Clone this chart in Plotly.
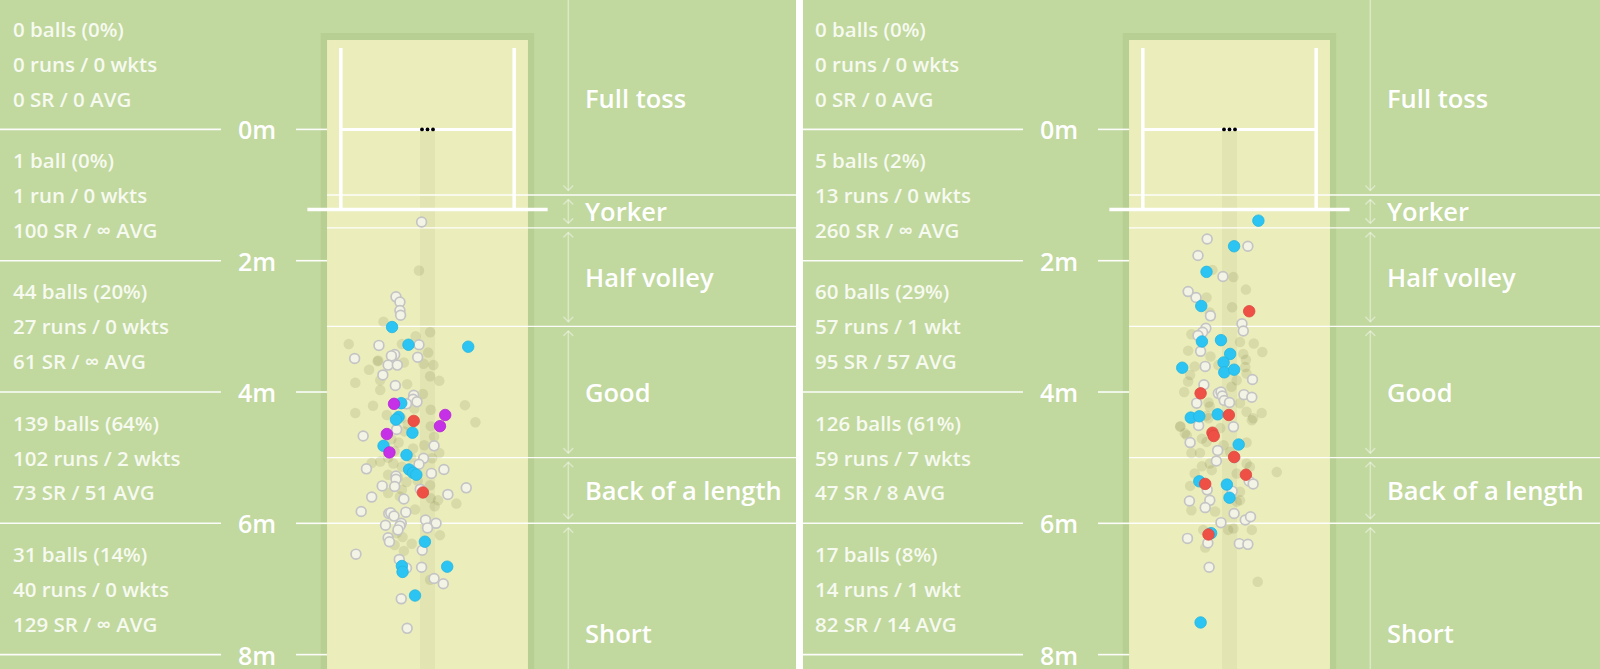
import plotly.graph_objects as go

# ---------------- data ----------------
zone_names = ["Full toss", "Yorker", "Half volley", "Good", "Back of a length", "Short"]
zone_edges = [-1.97, 1.0, 1.5, 3.0, 5.0, 6.0, 9.34]
metre_ticks = [0, 2, 4, 6, 8]
metre_labels = ["0m", "2m", "4m", "6m", "8m"]
group_centres = [-1, 1, 3, 5, 7]

left_balls = ["0 balls (0%)", "1 ball (0%)", "44 balls (20%)", "139 balls (64%)", "31 balls (14%)"]
left_runs = ["0 runs / 0 wkts", "1 run / 0 wkts", "27 runs / 0 wkts", "102 runs / 2 wkts", "40 runs / 0 wkts"]
left_rates = ["0 SR / 0 AVG", "100 SR / ∞ AVG", "61 SR / ∞ AVG", "73 SR / 51 AVG", "129 SR / ∞ AVG"]

right_balls = ["0 balls (0%)", "5 balls (2%)", "60 balls (29%)", "126 balls (61%)", "17 balls (8%)"]
right_runs = ["0 runs / 0 wkts", "13 runs / 0 wkts", "57 runs / 1 wkt", "59 runs / 7 wkts", "14 runs / 1 wkt"]
right_rates = ["0 SR / 0 AVG", "260 SR / ∞ AVG", "95 SR / 57 AVG", "47 SR / 8 AVG", "82 SR / 14 AVG"]

stumps_x = [-0.084, 0.0, 0.084]
stumps_y = [0.0, 0.0, 0.0]

# left panel balls (x = lateral metres from middle stump, y = metres from bowling crease)
L_white_x = [-0.09, -0.48, -0.42, -0.42, -0.41, -0.74, -0.13, -1.11, -0.50, -0.55, -0.15, -0.60, -0.46, -0.68,
             -0.49, -0.21, -0.22, -0.16, -0.32, -0.47, -0.98, 0.10, -0.06, -0.13, -0.93, 0.25, 0.06, -0.48,
             -0.48, -0.69, -0.50, -0.11, 0.59, 0.31, -0.85, -0.36, -1.01, -0.59, -0.56, -0.51, -0.33, -0.03,
             0.13, -0.64, -0.40, -0.42, 0.00, -0.45, -0.60, -0.58, -0.08, -1.09, -0.43, -0.32, -0.09, 0.10,
             0.24, -0.40, -0.31]
L_white_y = [1.41, 2.55, 2.63, 2.76, 2.83, 3.29, 3.28, 3.49, 3.43, 3.45, 3.47, 3.59, 3.59, 3.74,
             3.90, 4.05, 4.11, 4.15, 4.18, 4.57, 4.67, 4.82, 5.01, 5.10, 5.17, 5.18, 5.24, 5.28,
             5.33, 5.43, 5.44, 5.48, 5.46, 5.56, 5.60, 5.63, 5.82, 5.85, 5.84, 5.89, 5.83, 5.95,
             6.00, 6.03, 6.00, 6.04, 6.07, 6.10, 6.22, 6.28, 6.41, 6.47, 6.55, 6.68, 6.67, 6.84,
             6.92, 7.15, 7.60]
L_blue_x = [-0.54, -0.29, 0.62, -0.40, -0.44, -0.48, -0.23, -0.67, -0.32, -0.28, -0.22, -0.17, -0.04, -0.39, -0.38, 0.30, -0.19]
L_blue_y = [3.01, 3.28, 3.31, 4.17, 4.38, 4.42, 4.62, 4.82, 4.96, 5.18, 5.23, 5.26, 6.28, 6.65, 6.74, 6.66, 7.10]
L_red_x = [-0.21, -0.07]
L_red_y = [4.44, 5.53]
L_mag_x = [-0.51, 0.27, 0.19, -0.62, -0.58]
L_mag_y = [4.18, 4.35, 4.52, 4.64, 4.92]
L_faint_x = [-0.13, -0.67, 0.04, -0.18, -1.20, -0.39, 0.01, -0.76, -0.36, -0.06, 0.09, -0.89, 0.04, -1.10,
             -0.72, 0.18, -0.31, -0.72, -0.07, -0.83, -1.10, 0.57, 0.05, -0.62, 0.73, 0.05, 0.10, -0.44,
             -0.05, -0.22, 0.07, 0.18, -0.72, -0.85, -0.52, -0.39, -0.60, -0.32, 0.04, -0.39, -0.60, 0.05,
             0.11, 0.16, 0.44, -0.19, -0.42, -0.47, -0.38, 0.19, -0.24, -0.50, -0.36, 0.04, -0.75,
             -0.40, -0.30, -0.55, -0.25, -0.45, -0.20, -0.35, -0.15, -0.50, -0.60]
L_faint_y = [2.15, 2.93, 3.09, 3.15, 3.27, 3.27, 3.40, 3.53, 3.55, 3.57, 3.59, 3.66, 3.76, 3.86,
             3.82, 3.83, 3.88, 3.97, 4.03, 4.21, 4.32, 4.20, 4.27, 4.35, 4.46, 4.52, 4.68, 4.77,
             4.81, 4.86, 5.01, 4.93, 5.06, 5.08, 5.09, 5.14, 5.26, 5.37, 5.42, 5.49, 5.54, 5.62,
             5.74, 5.65, 5.70, 5.79, 5.59, 6.15, 6.21, 6.18, 6.31, 6.33, 6.42, 6.86, 3.52,
             4.40, 4.50, 4.72, 5.00, 5.30, 4.25, 4.60, 5.35, 4.90, 5.00]

# right panel balls
R_white_x = [-0.34, 0.28, -0.48, -0.10, -0.63, -0.51, -0.29, 0.19, 0.21, -0.36, -0.41, -0.48, -0.44, -0.37,
             0.35, -0.39, -0.17, -0.13, -0.11, -0.08, 0.00, 0.22, 0.34, -0.50, -0.47, 0.06, -0.60, -0.18,
             -0.20, 0.08, 0.30, 0.36, -0.34, 0.04, -0.61, -0.30, -0.37, 0.07, 0.24, 0.32, -0.13, -0.64,
             -0.33, 0.15, 0.28, -0.31]
R_white_y = [1.67, 1.78, 1.92, 2.24, 2.47, 2.56, 2.84, 2.96, 3.07, 3.03, 3.09, 3.14, 3.38, 3.61,
             3.81, 3.89, 4.02, 4.00, 4.06, 4.13, 4.16, 4.04, 4.08, 4.17, 4.51, 4.53, 4.77, 4.89,
             5.05, 5.00, 5.36, 5.40, 5.49, 5.51, 5.66, 5.65, 5.76, 5.85, 5.95, 5.90, 5.99, 6.23,
             6.30, 6.31, 6.32, 6.67]
R_blue_x = [0.44, 0.07, -0.35, -0.43, -0.42, -0.13, 0.01, -0.72, -0.09, -0.08, 0.07, -0.59, -0.46, -0.18, 0.14, -0.46, -0.04, 0.00, -0.28, -0.44]
R_blue_y = [1.39, 1.78, 2.17, 2.69, 3.23, 3.21, 3.42, 3.63, 3.55, 3.70, 3.66, 4.39, 4.37, 4.34, 4.80, 5.36, 5.41, 5.61, 6.15, 7.51]
R_red_x = [0.30, -0.44, -0.01, -0.26, -0.24, 0.07, 0.25, -0.37, -0.32]
R_red_y = [2.77, 4.02, 4.35, 4.62, 4.67, 4.99, 5.26, 5.40, 6.17]
R_faint_x = [0.06, -0.26, 0.25, -0.35, 0.04, -0.30, -0.58, 0.37, 0.16, 0.50, -0.63, -0.29, 0.21, 0.25,
             -0.17, -0.53, -0.60, -0.63, 0.11, -0.69, 0.03, 0.26, -0.30, 0.16, 0.49, 0.26, -0.75, 0.34,
             -0.65, -0.42, -0.35, -0.09, 0.26, -0.58, -0.45, 0.01, -0.30, -0.42, -0.27, 0.11, 0.26, 0.31,
             0.72, -0.53, -0.60, 0.16, 0.11, 0.16, -0.58, -0.22, -0.40, -0.02, 0.06, 0.34, -0.37, 0.43,
             0.24, -0.32, -0.75, -0.35, -0.32, 0.36, -0.68, -0.14]
R_faint_y = [2.25, 2.14, 2.44, 2.56, 2.71, 2.79, 3.12, 3.26, 3.24, 3.39, 3.37, 3.46, 3.42, 3.51,
             3.59, 3.61, 3.74, 3.84, 3.82, 4.00, 3.92, 3.72, 4.22, 4.17, 4.32, 4.30, 4.53, 4.43,
             4.66, 4.71, 4.76, 4.81, 4.77, 4.93, 4.93, 4.91, 5.09, 5.13, 5.19, 5.24, 5.09, 5.14,
             5.22, 5.24, 5.43, 5.52, 5.67, 5.65, 5.80, 5.82, 6.10, 6.10, 6.08, 6.10, 6.37, 6.89,
             3.62, 4.16, 4.52, 4.36, 4.40, 4.40, 4.63, 4.55]

# ---------------- styling / geometry ----------------
PXM = 65.65                      # pixels per metre
Y_TOP, Y_BOT = -1.971, 8.219
GREEN = "#c1d89e"
BAND = "#b7cf93"
YELLOW = "#ebeebb"
LINE = "rgba(255,255,255,0.95)"
ARROW = "rgba(255,255,255,0.42)"
FONT = "Open Sans"

panels = [
    dict(xa="x", dom=(0, 796), rng=(-6.512, (796 - 427.5) / PXM),
         white=(L_white_x, L_white_y), blue=(L_blue_x, L_blue_y), red=(L_red_x, L_red_y),
         mag=(L_mag_x, L_mag_y), faint=(L_faint_x, L_faint_y),
         stats=(left_balls, left_runs, left_rates)),
    dict(xa="x2", dom=(803, 1600), rng=((803 - 1229.5) / PXM, (1600 - 1229.5) / PXM),
         white=(R_white_x, R_white_y), blue=(R_blue_x, R_blue_y), red=(R_red_x, R_red_y),
         mag=([], []), faint=(R_faint_x, R_faint_y),
         stats=(right_balls, right_runs, right_rates)),
]

fig = go.Figure()
shapes = []
annotations = []

PITCH_HALF = 1.53
BAND_HALF = 1.625
ARROW_X = 2.145
LABEL_X = 2.38
TEXT_X = -6.33
MLABEL_X = -2.59
CHEV_W, CHEV_H = 0.075, 0.075
GAP = 0.07

for p in panels:
    xa = p["xa"]
    ya = "y"
    x0, x1 = p["rng"]

    def rect(xl, xr, yt, yb, color):
        shapes.append(dict(type="rect", xref=xa, yref=ya, x0=xl, x1=xr, y0=yt, y1=yb,
                           fillcolor=color, line=dict(width=0), layer="below"))

    def seg(xl, yl, xr, yr, color, width):
        shapes.append(dict(type="line", xref=xa, yref=ya, x0=xl, y0=yl, x1=xr, y1=yr,
                           line=dict(color=color, width=width), layer="below"))

    # pitch
    rect(-BAND_HALF, BAND_HALF, -1.47, 8.4, BAND)
    rect(-PITCH_HALF, PITCH_HALF, -1.36, 8.4, YELLOW)
    rect(-0.114, 0.114, 0.0, 8.4, "rgba(110,110,50,0.07)")

    # metre lines on the left, with gap for label
    for t, lab in zip(metre_ticks, metre_labels):
        seg(x0, t, -3.146, t, LINE, 1.6)
        seg(-2.003, t, -PITCH_HALF, t, LINE, 1.6)
        annotations.append(dict(xref=xa, yref=ya, x=MLABEL_X, y=t, text=lab, showarrow=False,
                                xanchor="center", yanchor="middle", borderpad=0,
                                font=dict(family=FONT, size=25, color="white", weight=600)))

    # zone boundary lines
    for e in zone_edges[1:-1]:
        seg(-PITCH_HALF, e, x1, e, LINE, 1.4)

    # creases
    seg(-1.32, -1.24, -1.32, 1.22, "white", 3.5)
    seg(1.32, -1.24, 1.32, 1.22, "white", 3.5)
    seg(-1.32, 0.0, 1.32, 0.0, "white", 3)
    seg(-1.83, 1.22, 1.83, 1.22, "white", 3.5)

    # zone arrows + labels
    for i, name in enumerate(zone_names):
        top, bot = zone_edges[i], zone_edges[i + 1]
        a_top = top + GAP if i > 0 else Y_TOP - 0.2
        a_bot = bot - GAP if i < len(zone_names) - 1 else Y_BOT + 0.3
        seg(ARROW_X, a_top, ARROW_X, a_bot, ARROW, 1.5)
        if i > 0:
            shapes.append(dict(type="path", xref=xa, yref=ya, layer="below",
                               path=f"M {ARROW_X - CHEV_W} {a_top + CHEV_H} L {ARROW_X} {a_top} L {ARROW_X + CHEV_W} {a_top + CHEV_H}",
                               line=dict(color=ARROW, width=1.5)))
        if i < len(zone_names) - 1:
            shapes.append(dict(type="path", xref=xa, yref=ya, layer="below",
                               path=f"M {ARROW_X - CHEV_W} {a_bot - CHEV_H} L {ARROW_X} {a_bot} L {ARROW_X + CHEV_W} {a_bot - CHEV_H}",
                               line=dict(color=ARROW, width=1.5)))
        annotations.append(dict(xref=xa, yref=ya, x=LABEL_X, y=(top + bot) / 2, text=name,
                                showarrow=False, xanchor="left", yanchor="middle", borderpad=0,
                                font=dict(family=FONT, size=25.5, color="white", weight=600)))

    # stats text
    balls, runs, rates = p["stats"]
    for c, b, r, s in zip(group_centres, balls, runs, rates):
        for off, txt in ((-0.535, b), (0.0, r), (0.53, s)):
            annotations.append(dict(xref=xa, yref=ya, x=TEXT_X, y=c + off, text=txt,
                                    showarrow=False, xanchor="left", yanchor="middle", borderpad=0,
                                    font=dict(family=FONT, size=20.5, color="#f7faf0", weight=600)))

    # balls
    fx, fy = p["faint"]
    fig.add_trace(go.Scatter(x=fx, y=fy, mode="markers", xaxis=xa, yaxis=ya, hoverinfo="skip",
                             marker=dict(size=10.5, color="rgba(90,90,40,0.13)", line=dict(width=0))))
    wx, wy = p["white"]
    fig.add_trace(go.Scatter(x=wx, y=wy, mode="markers", xaxis=xa, yaxis=ya,
                             marker=dict(size=9.8, color="#f3f3e6", line=dict(width=1.7, color="#c4c4c4"))))
    bx, by = p["blue"]
    fig.add_trace(go.Scatter(x=bx, y=by, mode="markers", xaxis=xa, yaxis=ya,
                             marker=dict(size=11.5, color="#2bc4f3", line=dict(width=0.8, color="#25b5e0"))))
    mx, my = p["mag"]
    fig.add_trace(go.Scatter(x=mx, y=my, mode="markers", xaxis=xa, yaxis=ya,
                             marker=dict(size=11.5, color="#c630e6", line=dict(width=0.8, color="#b428d2"))))
    rx, ry = p["red"]
    fig.add_trace(go.Scatter(x=rx, y=ry, mode="markers", xaxis=xa, yaxis=ya,
                             marker=dict(size=11.5, color="#ee5046", line=dict(width=0.8, color="#dd463d"))))
    # stumps
    fig.add_trace(go.Scatter(x=stumps_x, y=stumps_y, mode="markers", xaxis=xa, yaxis=ya,
                             marker=dict(size=3.8, color="black")))

axis_common = dict(visible=False, showgrid=False, zeroline=False, fixedrange=True)
fig.update_layout(
    width=1600, height=669,
    margin=dict(l=0, r=0, t=0, b=0, pad=0),
    paper_bgcolor="white",
    plot_bgcolor=GREEN,
    showlegend=False,
    shapes=shapes,
    annotations=annotations,
    xaxis=dict(domain=[panels[0]["dom"][0] / 1600, panels[0]["dom"][1] / 1600],
               range=list(panels[0]["rng"]), anchor="y", **axis_common),
    xaxis2=dict(domain=[panels[1]["dom"][0] / 1600, panels[1]["dom"][1] / 1600],
                range=list(panels[1]["rng"]), anchor="y", **axis_common),
    yaxis=dict(range=[Y_BOT, Y_TOP], anchor="x", domain=[0, 1], **axis_common),
    hovermode=False,
)

fig.write_html("out.html", config={"displayModeBar": False, "staticPlot": True},
               post_script="document.body.style.margin='0px';document.body.style.overflow='hidden';")
